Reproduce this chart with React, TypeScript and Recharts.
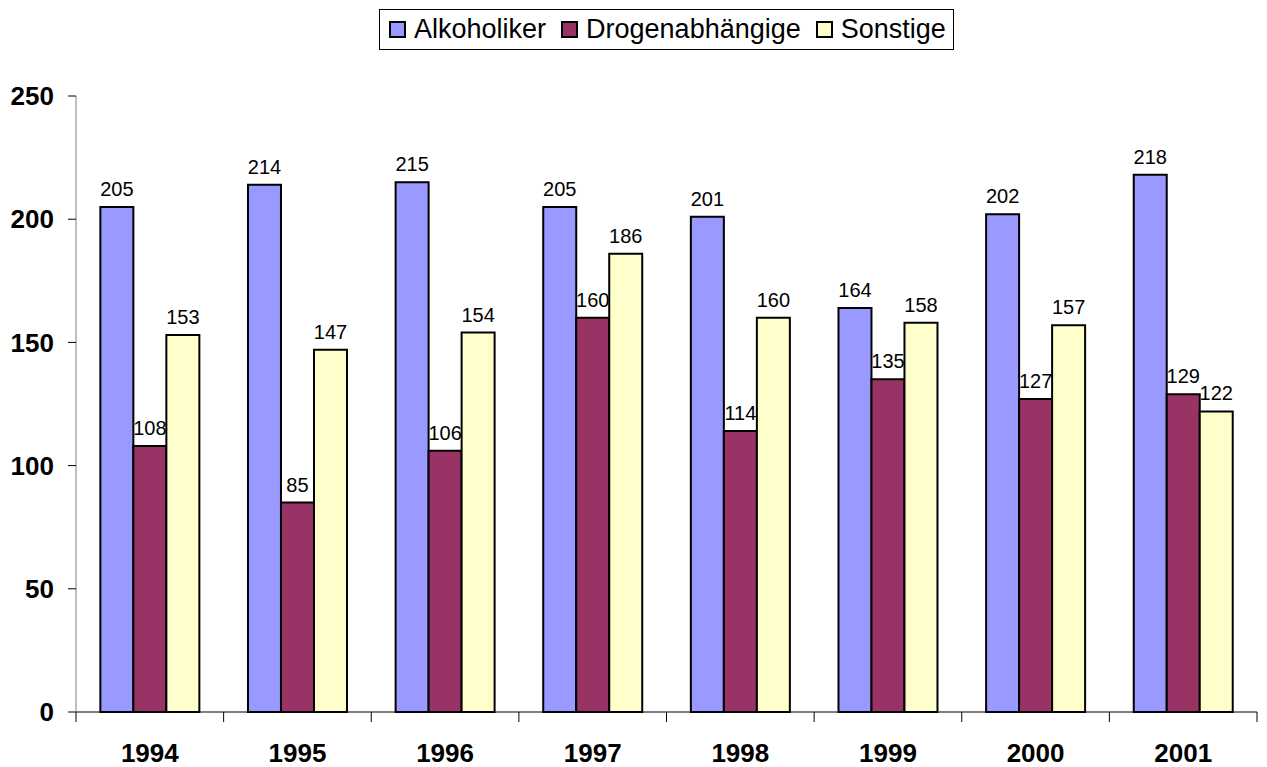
import React from 'react';
import { BarChart, Bar, XAxis, YAxis, Legend, LabelList } from 'recharts';

const years = ['1994', '1995', '1996', '1997', '1998', '1999', '2000', '2001'];
const alkoholiker = [205, 214, 215, 205, 201, 164, 202, 218];
const drogenabhaengige = [108, 85, 106, 160, 114, 135, 127, 129];
const sonstige = [153, 147, 154, 186, 160, 158, 157, 122];
const yTicks = [0, 50, 100, 150, 200, 250];

const seriesNames = ['Alkoholiker', 'Drogenabhängige', 'Sonstige'];
const seriesColors = ['#9999FF', '#993366', '#FFFFCC'];

const data = years.map((y, i) => ({
  year: y,
  Alkoholiker: alkoholiker[i],
  'Drogenabhängige': drogenabhaengige[i],
  Sonstige: sonstige[i],
}));

const FONT = '"Liberation Sans", Arial, sans-serif';

const XTick = (props: any) => {
  const { x, y, payload, index, visibleTicksCount } = props;
  const off = payload && typeof payload.offset === 'number' ? payload.offset : 0;
  const last = index === visibleTicksCount - 1;
  return (
    <g>
      <line x1={x - off} x2={x - off} y1={y} y2={y + 10} stroke="#000" strokeWidth={1} />
      {last && <line x1={x + off} x2={x + off} y1={y} y2={y + 10} stroke="#000" strokeWidth={1} />}
      <text x={x} y={y + 50} textAnchor="middle" fontFamily={FONT} fontSize={26} fontWeight="bold" fill="#000">
        {payload.value}
      </text>
    </g>
  );
};

const LegendBox = () => (
  <div
    style={{
      border: '1px solid #000',
      boxSizing: 'border-box',
      height: 41,
      width: 575,
      display: 'flex',
      alignItems: 'center',
      paddingLeft: 9,
      fontFamily: FONT,
      fontSize: 27,
      color: '#000',
      background: '#fff',
      whiteSpace: 'nowrap',
    }}
  >
    {seriesNames.map((n, i) => (
      <div key={n} style={{ display: 'flex', alignItems: 'center', marginRight: i < 2 ? 15 : 0 }}>
        <div
          style={{
            width: 17,
            height: 17,
            boxSizing: 'border-box',
            border: '2px solid #000',
            background: seriesColors[i],
            marginRight: 8,
          }}
        />
        <span style={{ lineHeight: '27px' }}>{n}</span>
      </div>
    ))}
  </div>
);

export default function App() {
  return (
    <div style={{ position: 'absolute', left: 0, top: 0, width: 1267, height: 767, background: '#fff' }}>
      <BarChart
        width={1267}
        height={767}
        data={data}
        margin={{ top: 96, right: 10, bottom: 0, left: 0 }}
        barCategoryGap="16.5%"
        barGap={0}
      >
        <XAxis
          dataKey="year"
          height={55}
          axisLine={{ stroke: '#000', strokeWidth: 1 }}
          tickLine={false}
          tickSize={0}
          tickMargin={0}
          interval={0}
          tick={<XTick />}
        />
        <YAxis
          width={76}
          domain={[0, 250]}
          ticks={yTicks}
          interval={0}
          axisLine={{ stroke: '#808080', strokeWidth: 1 }}
          tickLine={{ stroke: '#000', strokeWidth: 1 }}
          tickSize={8}
          tickMargin={14}
          tick={{ fontSize: 26, fontWeight: 'bold', fill: '#000', fontFamily: FONT }}
        />
        <Legend
          layout="horizontal"
          verticalAlign="middle"
          align="center"
          wrapperStyle={{ top: 9, left: 379, width: 575 }}
          content={<LegendBox />}
        />
        {seriesNames.map((n, i) => (
          <Bar
            key={n}
            dataKey={n}
            fill={seriesColors[i]}
            stroke="#000"
            strokeWidth={2}
            isAnimationActive={false}
          >
            <LabelList
              dataKey={n}
              position="top"
              offset={11}
              style={{ fontSize: 20, fontFamily: FONT, fill: '#000' }}
            />
          </Bar>
        ))}
      </BarChart>
    </div>
  );
}
